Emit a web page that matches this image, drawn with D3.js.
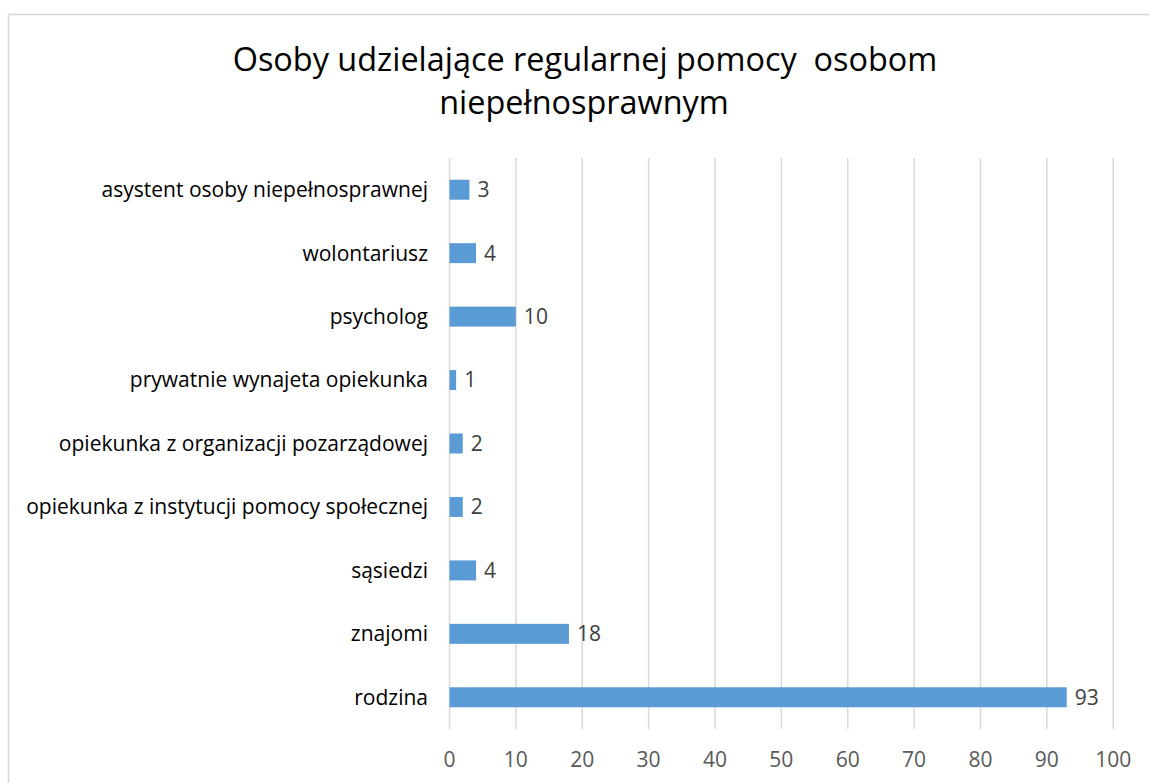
<!DOCTYPE html>
<html>
<head>
<meta charset="utf-8">
<script src="https://cdn.jsdelivr.net/npm/d3@7"></script>
<style>
  body { margin: 0; background: #fff; }
  svg text { font-family: "Open Sans", "Noto Sans", sans-serif; }
</style>
</head>
<body>
<div id="chart"></div>
<script>
var categories = [
  "asystent osoby niepełnosprawnej",
  "wolontariusz",
  "psycholog",
  "prywatnie wynajeta opiekunka",
  "opiekunka z organizacji pozarządowej",
  "opiekunka z instytucji pomocy społecznej",
  "sąsiedzi",
  "znajomi",
  "rodzina"
];
var values = [3, 4, 10, 1, 2, 2, 4, 18, 93];
var xTicks = [0, 10, 20, 30, 40, 50, 60, 70, 80, 90, 100];
var titleLines = ["Osoby udzielające regularnej pomocy  osobom", "niepełnosprawnym"];

var width = 1150, height = 783;
var margin = {left: 449.5, right: 37, top: 158, down: 54};

var svg = d3.select("#chart").append("svg")
  .attr("width", width).attr("height", height);

// chart border
svg.append("rect")
  .attr("x", 8.5).attr("y", 14.5)
  .attr("width", 1200).attr("height", 800)
  .attr("fill", "none")
  .attr("stroke", "#d9d9d9")
  .attr("stroke-width", 1.5);

// fit a text element's font size to a target width
function fit(sel, target, start) {
  sel.style("font-size", start + "px");
  var w = sel.node().getComputedTextLength();
  sel.style("font-size", (start * target / w) + "px");
}

// title
var t1 = svg.append("text")
  .attr("x", 585).attr("y", 71)
  .attr("text-anchor", "middle")
  .style("fill", "#000")
  .style("white-space", "pre")
  .attr("xml:space", "preserve")
  .text(titleLines[0]);
fit(t1, 705, 30);
var t2 = svg.append("text")
  .attr("x", 584).attr("y", 114)
  .attr("text-anchor", "middle")
  .style("fill", "#000")
  .style("font-size", t1.style("font-size"))
  .text(titleLines[1]);

var x = d3.scaleLinear()
  .domain([0, 100])
  .range([margin.left, width - margin.right + 0.2]);

var y = d3.scaleBand()
  .domain(categories)
  .range([margin.top, height - margin.down])
  .paddingInner(0.685)
  .paddingOuter(0.3425);

var plotBottom = height - margin.down;

// grid lines
svg.append("g")
  .selectAll("line")
  .data(xTicks)
  .enter()
  .append("line")
    .attr("x1", function(d) { return x(d); })
    .attr("x2", function(d) { return x(d); })
    .attr("y1", margin.top)
    .attr("y2", plotBottom)
    .attr("stroke", "#d9d9d9")
    .attr("stroke-width", 1.5);

// x tick labels
var tickG = svg.append("g");
tickG.selectAll("text")
  .data(xTicks)
  .enter()
  .append("text")
    .attr("x", function(d) { return x(d); })
    .attr("y", 767)
    .attr("text-anchor", "middle")
    .style("fill", "#595959")
    .text(function(d) { return d; });

// category labels
var catG = svg.append("g");
catG.selectAll("text")
  .data(categories)
  .enter()
  .append("text")
    .attr("x", 428)
    .attr("y", function(d) { return y(d) + y.bandwidth() / 2; })
    .attr("dy", "0.35em")
    .attr("text-anchor", "end")
    .style("fill", "#000")
    .text(function(d) { return d; });

// size the labels so the longest one matches
var probe = catG.selectAll("text").filter(function(d) { return d == categories[5]; });
fit(probe, 402, 20);
var labelSize = probe.style("font-size");
catG.selectAll("text").style("font-size", labelSize);
tickG.selectAll("text").style("font-size", labelSize);

// bars
svg.append("g")
  .selectAll("rect")
  .data(values)
  .enter()
  .append("rect")
    .attr("x", x(0))
    .attr("y", function(d, i) { return y(categories[i]); })
    .attr("width", function(d) { return x(d) - x(0); })
    .attr("height", y.bandwidth())
    .attr("fill", "#5b9bd5");

// data labels
svg.append("g")
  .selectAll("text")
  .data(values)
  .enter()
  .append("text")
    .attr("x", function(d) { return x(d) + 8; })
    .attr("y", function(d, i) { return y(categories[i]) + y.bandwidth() / 2; })
    .attr("dy", "0.35em")
    .style("fill", "#404040")
    .style("font-size", labelSize)
    .text(function(d) { return d; });
</script>
</body>
</html>
